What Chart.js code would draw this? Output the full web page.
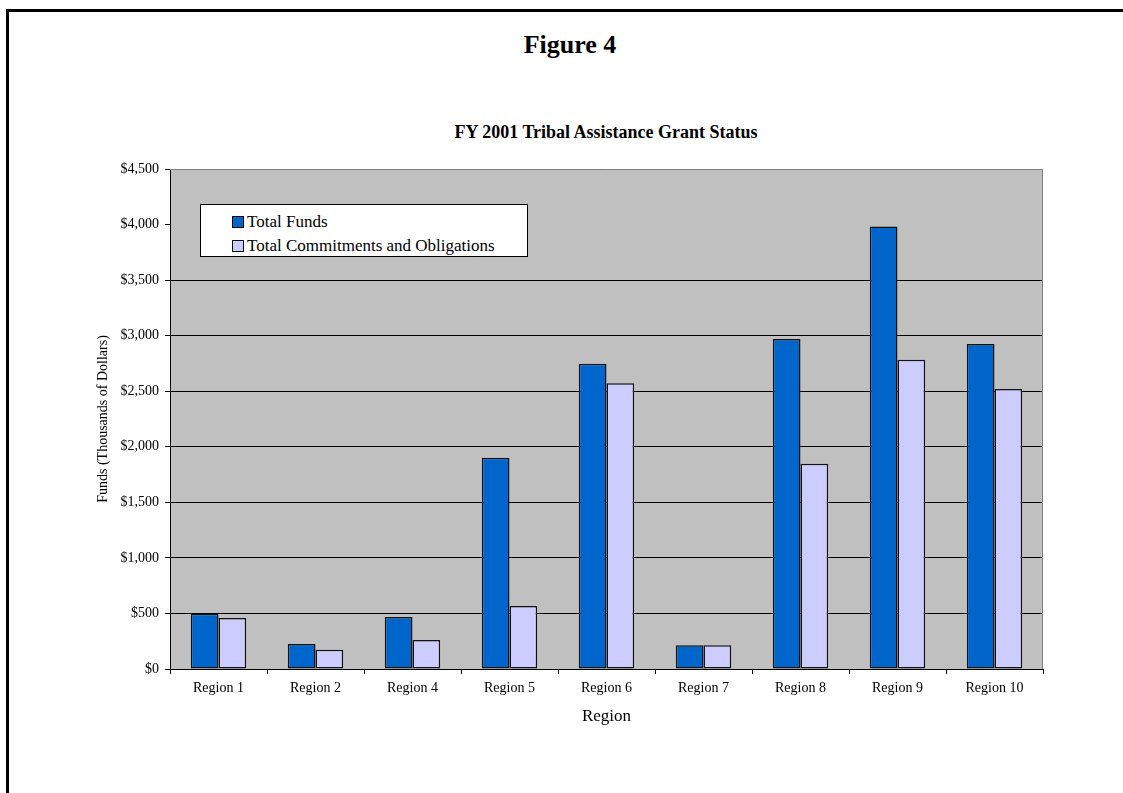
<!DOCTYPE html>
<html>
<head>
<meta charset="utf-8">
<title>FY 2001 Tribal Assistance Grant Status</title>
<script src="https://cdn.jsdelivr.net/npm/chart.js@4.4.1/dist/chart.umd.min.js"></script>
<style>
  html, body { margin: 0; padding: 0; background: #fff; overflow: hidden; }
  body { width: 1123px; height: 793px; position: relative; font-family: 'Liberation Serif', 'Times New Roman', serif; color: #000; }
  .frame { position: absolute; left: 6px; top: 9px; width: 1300px; height: 1000px; border-left: 3px solid #000; border-top: 3px solid #000; }
  .fig-title { position: absolute; left: 470px; width: 200px; top: 30px; text-align: center; font-weight: bold; font-size: 26px; line-height: 30px; }
  .chart-title { position: absolute; left: 306px; width: 600px; top: 121px; text-align: center; font-weight: bold; font-size: 18px; line-height: 22px; }
  #grantChart { position: absolute; left: 0; top: 0; }
  .legend-box { position: absolute; left: 200px; top: 204px; width: 326px; height: 51px; background: #fff; border: 1px solid #000; }
  .legend-item { position: absolute; left: 31px; font-size: 17px; line-height: 20px; white-space: nowrap; }
  .legend-dot { display: inline-block; width: 10px; height: 10px; border: 1px solid #000; margin-right: 3px; vertical-align: -1px; }
</style>
</head>
<body>
<div class="frame"></div>
<div class="fig-title">Figure 4</div>
<div class="chart-title">FY 2001 Tribal Assistance Grant Status</div>
<canvas id="grantChart" width="1123" height="793"></canvas>
<div class="legend-box" id="grant-legend"></div>

<script>
// ---------------------------------------------
// Grant status by region (thousands of dollars)
// ---------------------------------------------
const regions = ['Region 1', 'Region 2', 'Region 4', 'Region 5', 'Region 6', 'Region 7', 'Region 8', 'Region 9', 'Region 10'];
const totalFunds = [498, 225, 468, 1902, 2748, 213, 2970, 3983, 2925];
const totalCommitments = [460, 174, 261, 567, 2571, 213, 1848, 2784, 2520];
const seriesNames = ['Total Funds', 'Total Commitments and Obligations'];
const seriesColors = ['#0066CC', '#CCCCFF'];

Chart.defaults.font.family = "'Liberation Serif', 'Times New Roman', serif";
Chart.defaults.color = '#000';

// grey plot background + grey top/right border
const plotArea = {
  id: 'plotArea',
  beforeDraw(chart) {
    const { ctx, chartArea: a } = chart;
    ctx.save();
    ctx.fillStyle = '#C0C0C0';
    ctx.fillRect(a.left, a.top, a.right - a.left, a.bottom - a.top);
    ctx.restore();
  },
  beforeDatasetsDraw(chart) {
    const { ctx, chartArea: a } = chart;
    ctx.save();
    ctx.strokeStyle = '#808080';
    ctx.lineWidth = 1;
    ctx.beginPath();
    ctx.moveTo(a.left, a.top + 0.5);
    ctx.lineTo(a.right - 0.5, a.top + 0.5);
    ctx.lineTo(a.right - 0.5, a.bottom);
    ctx.stroke();
    ctx.restore();
  }
};

const grantChart = new Chart(document.getElementById('grantChart'), {
  type: 'bar',
  data: {
    labels: regions,
    datasets: [totalFunds, totalCommitments].map((vals, i) => ({
      label: seriesNames[i],
      data: vals,
      backgroundColor: seriesColors[i],
      borderColor: '#111',
      borderWidth: 1.5,
      borderSkipped: false,
      categoryPercentage: 2 / 3.5,
      barPercentage: 1
    }))
  },
  options: {
    responsive: false,
    animation: false,
    devicePixelRatio: 1,
    layout: { padding: { left: 95, right: 80, top: 169, bottom: 66 } },
    plugins: {
      legend: { display: false },
      title: { display: false },
      tooltip: { enabled: false }
    },
    scales: {
      x: {
        afterFit: s => { s.height = 58; },
        grid: { offset: true, drawOnChartArea: false, drawTicks: true, tickLength: 5, tickColor: '#000' },
        border: { color: '#000', width: 1 },
        ticks: { font: { size: 14 }, padding: 6, maxRotation: 0 },
        title: { display: true, text: 'Region', font: { size: 17 }, padding: 0 }
      },
      y: {
        min: 0,
        max: 4500,
        afterFit: s => { s.width = 75; },
        grid: {
          color: ctx => (ctx.tick && (ctx.tick.value === 0 || ctx.tick.value >= 4000)) ? 'rgba(0,0,0,0)' : '#000',
          tickColor: '#000',
          tickLength: 5
        },
        border: { color: '#000', width: 1 },
        ticks: {
          stepSize: 500,
          font: { size: 14 },
          padding: 6,
          callback: v => '$' + v.toLocaleString('en-US')
        },
        title: { display: true, text: 'Funds (Thousands of Dollars)', font: { size: 14 }, padding: 0 }
      }
    }
  },
  plugins: [plotArea]
});

// legend box inside the plot
const legendEl = document.getElementById('grant-legend');
legendEl.innerHTML = grantChart.data.datasets.map((d, i) =>
  `<span class="legend-item" style="top:${7 + i * 24}px;"><span class="legend-dot" style="background:${d.backgroundColor};"></span>${d.label}</span>`
).join('');
</script>
</body>
</html>
